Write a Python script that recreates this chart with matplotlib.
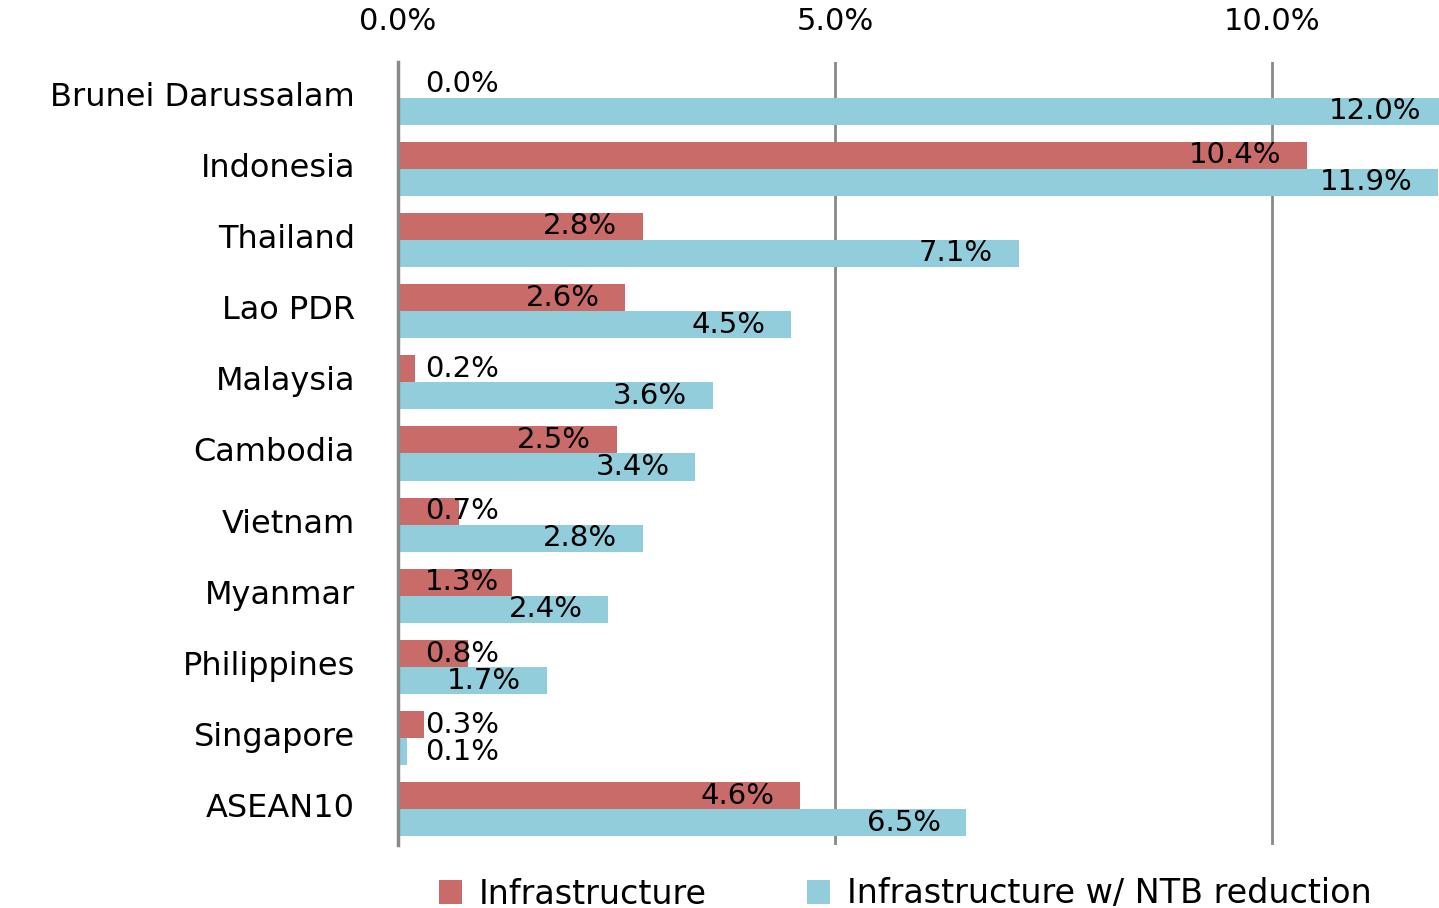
import matplotlib
matplotlib.use("Agg")
import matplotlib.pyplot as plt
import matplotlib.transforms as mtransforms
from matplotlib.ticker import FuncFormatter, FixedLocator
from matplotlib.patches import Patch

categories = ["Brunei Darussalam", "Indonesia", "Thailand", "Lao PDR", "Malaysia",
              "Cambodia", "Vietnam", "Myanmar", "Philippines", "Singapore", "ASEAN10"]
infra = [0.0, 10.4, 2.8, 2.6, 0.2, 2.5, 0.7, 1.3, 0.8, 0.3, 4.6]
infra_ntb = [12.0, 11.9, 7.1, 4.5, 3.6, 3.4, 2.8, 2.4, 1.7, 0.1, 6.5]
series_names = ["Infrastructure", "Infrastructure w/ NTB reduction"]
xticks = [0, 5, 10]

RED = "#C96B69"
BLUE = "#92CDDC"
GRID = "#898989"

plt.rcParams["font.family"] = ["DejaVu Sans"]

fig = plt.figure(figsize=(14.39, 9.08), dpi=100)
ax = fig.add_axes([398 / 1439, 1 - 845 / 908, 1 - 398 / 1439, (845 - 62) / 908])

h = 0.38
ypos = list(range(len(categories)))
ax.barh([y - h / 2 for y in ypos], infra, height=h, color=RED, zorder=3)
ax.barh([y + h / 2 for y in ypos], infra_ntb, height=h, color=BLUE, zorder=3)

ax.set_xlim(0, (1439 - 398) / 87.4)
ax.set_ylim(len(categories) - 0.5, -0.5)

ax.xaxis.tick_top()
ax.xaxis.set_major_locator(FixedLocator(xticks))
ax.xaxis.set_major_formatter(FuncFormatter(lambda v, p: f"{v:.1f}%"))
ax.tick_params(axis="x", length=0, pad=19, labelsize=22)
ax.set_yticks(ypos)
ax.set_yticklabels(categories, fontsize=23)
ax.tick_params(axis="y", length=0, pad=31)
shift = mtransforms.ScaledTranslation(0, 4 / 100, fig.dpi_scale_trans)
for t in ax.get_yticklabels():
    t.set_transform(t.get_transform() + shift)

ax.grid(axis="x", color=GRID, linewidth=2, zorder=0)
for s in ["top", "right", "bottom"]:
    ax.spines[s].set_visible(False)
ax.spines["left"].set_color(GRID)
ax.spines["left"].set_linewidth(2.5)
ax.spines["left"].set_zorder(4)

def label(y, v):
    txt = f"{v:.1f}%"
    if v < 1.6:
        ax.text(0.31, y, txt, ha="left", va="center", fontsize=21, zorder=5)
    else:
        ax.text(v - 0.29, y, txt, ha="right", va="center", fontsize=21, zorder=5)

for y, v in zip(ypos, infra):
    label(y - h / 2, v)
for y, v in zip(ypos, infra_ntb):
    label(y + h / 2, v)

handles = [Patch(facecolor=RED, edgecolor="none"), Patch(facecolor=BLUE, edgecolor="none")]
fig.legend(handles, series_names, loc="center", bbox_to_anchor=(905 / 1439, 1 - 894 / 908),
           ncol=2, frameon=False, fontsize=24, handlelength=0.7, handleheight=0.7,
           handletextpad=0.5, columnspacing=3.0, borderaxespad=0, borderpad=0)

fig.savefig("out.png", dpi=100)
